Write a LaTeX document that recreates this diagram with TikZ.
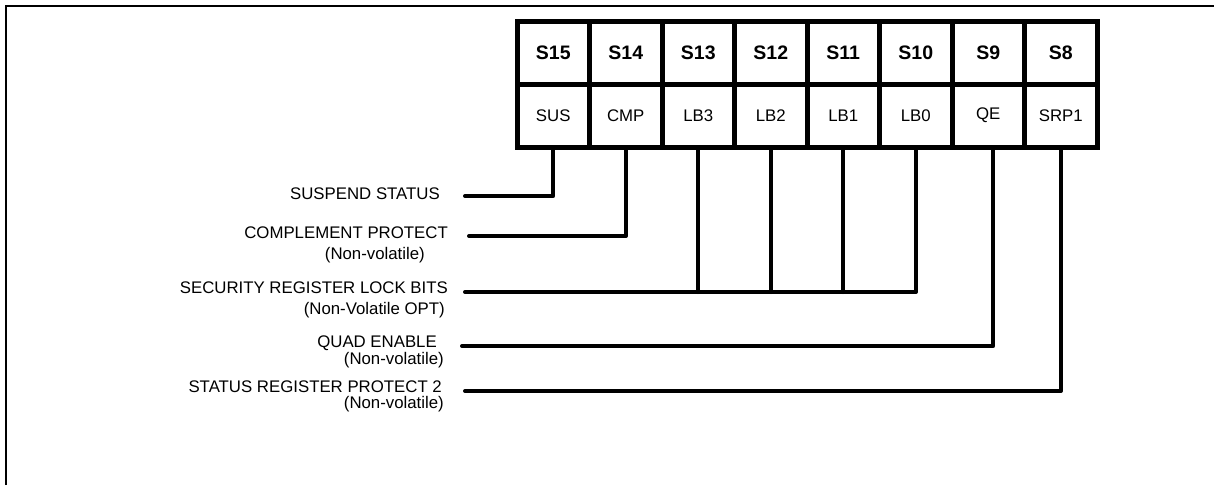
\documentclass[tikz,border=0pt]{standalone}
\usepackage{fontspec}
\setmainfont{Liberation Sans}
\begin{document}
\begin{tikzpicture}[x=1pt,y=-1pt,
 cell/.style={draw,line width=5pt,minimum width=72.5pt,minimum height=63pt,inner sep=0pt},
 head/.style={cell,font=\fontsize{19.5}{20}\selectfont\bfseries},
 field/.style={cell,font=\fontsize{16.8}{18}\selectfont},
 lbl/.style={anchor=base east,inner sep=0pt,font=\fontsize{16.8}{18}\selectfont},
 wire/.style={line width=4pt,line cap=round,line join=round}]
\useasboundingbox (0,0) rectangle (1214,485);
\draw[line width=2.5pt] (6,485)--(6,6)--(1214,6);
\foreach \n/\f [count=\i] in {15/SUS,14/CMP,13/LB3,12/LB2,11/LB1,10/LB0,9/QE,8/SRP1}{
  \node[head] (s\n) at (480.75+72.5*\i,52.5) {S\n};
  \node[field] (f\n) at (480.75+72.5*\i,115.5) {\f};
}
\node[lbl] (l-sus) at (440,199) {SUSPEND STATUS};
\node[lbl] (l-cmp) at (448,238) {COMPLEMENT PROTECT};
\node[lbl] (n-cmp) at (425,259) {(Non-volatile)};
\node[lbl] (l-lb) at (448,293) {SECURITY REGISTER LOCK BITS};
\node[lbl] (n-lb) at (445,314) {(Non-Volatile OPT)};
\node[lbl] (l-qe) at (437,347) {QUAD ENABLE};
\node[lbl] (n-qe) at (444,364) {(Non-volatile)};
\node[lbl] (l-srp) at (442,392) {STATUS REGISTER PROTECT 2};
\node[lbl] (n-srp) at (444,408) {(Non-volatile)};
\coordinate (e-sus) at (465,196);
\coordinate (e-cmp) at (469,236);
\coordinate (e-lb) at (465,292);
\coordinate (e-qe) at (462,346);
\coordinate (e-srp) at (465,391);
\draw[wire] (f15.south) |- (e-sus);
\draw[wire] (f14.south) |- (e-cmp);
\draw[wire] (e-lb) -| (f10.south);
\foreach \k in {13,12,11} \draw[wire] (f\k.south) -- (f\k.south |- e-lb);
\draw[wire] ([xshift=5pt]f9.south) |- (e-qe);
\draw[wire] (f8.south) |- (e-srp);
\end{tikzpicture}
\end{document}
